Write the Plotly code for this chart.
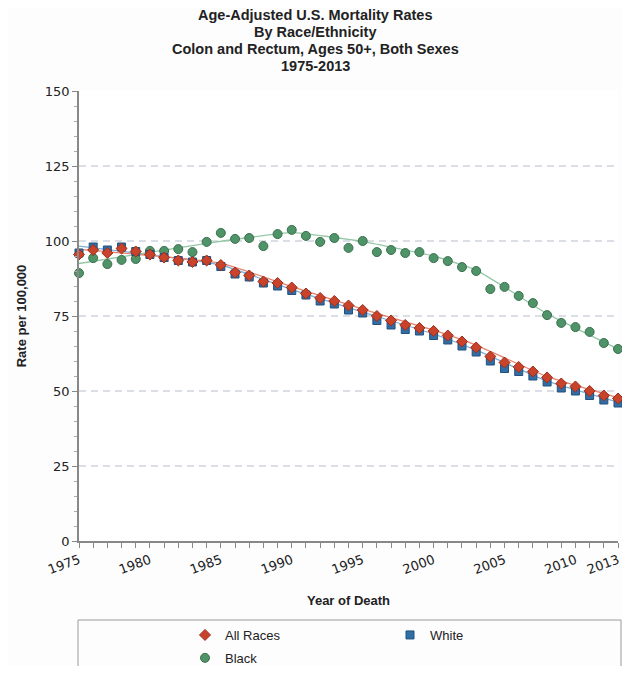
import plotly.graph_objects as go

years = list(range(1975, 2014))

all_races = [95.5, 97.0, 96.0, 97.5, 96.5, 95.5, 94.5, 93.5, 93.0, 93.5,
             92.0, 89.5, 88.5, 86.5, 86.0, 84.5, 82.5, 81.0, 80.0, 78.5,
             77.0, 75.0, 73.5, 72.0, 71.0, 70.0, 68.5, 66.5, 64.5, 61.5,
             59.5, 58.0, 56.5, 54.5, 52.5, 51.5, 50.0, 48.5, 47.5]

white = [96.0, 98.0, 97.0, 98.0, 96.5, 95.5, 94.5, 93.5, 93.0, 93.5,
         91.5, 89.0, 88.0, 86.0, 85.0, 83.5, 82.0, 80.0, 79.0, 77.0,
         76.0, 73.5, 72.0, 70.5, 70.0, 68.5, 67.0, 65.0, 63.0, 60.0,
         57.5, 56.5, 55.0, 53.0, 51.0, 50.0, 48.5, 47.0, 46.0]

black = [89.3, 94.3, 92.3, 93.7, 94.0, 96.7, 96.7, 97.3, 96.3, 99.7,
         102.7, 100.7, 101.0, 98.3, 102.3, 103.7, 101.7, 99.7, 101.0, 97.7,
         100.0, 96.3, 97.0, 96.0, 96.3, 94.3, 93.3, 91.3, 90.0, 84.0,
         84.7, 81.7, 79.3, 75.3, 72.7, 71.3, 69.7, 66.0, 64.0]

# fitted trend lines
all_fit_years = [1975, 1985, 1990, 1995, 2000, 2003, 2008, 2013]
all_fit_vals = [97.2, 92.6, 84.8, 77.3, 70.3, 65.3, 54.8, 47.8]
white_fit_years = [1975, 1985, 1990, 1995, 2000, 2003, 2008, 2013]
white_fit_vals = [98.3, 92.0, 83.8, 76.3, 69.0, 63.6, 53.3, 46.3]
black_fit_years = [1975, 1984, 1990, 1995, 2000, 2003, 2008, 2013]
black_fit_vals = [92.5, 99.2, 102.8, 99.8, 95.0, 90.3, 75.8, 64.0]

y_ticks = [0, 25, 50, 75, 100, 125, 150]
grid_vals = [25, 50, 75, 100, 125]
x_tickvals = [1975, 1980, 1985, 1990, 1995, 2000, 2005, 2010, 2013]
x_ticktext = [str(v) for v in x_tickvals]

title_lines = ["Age-Adjusted U.S. Mortality Rates", "By Race/Ethnicity",
               "Colon and Rectum, Ages 50+, Both Sexes", "1975-2013"]

RED = "#c9432b"
RED_LINE = "#e8826a"
BLUE = "#2f6ea6"
BLUE_LINE = "#7fb0d8"
GREEN = "#4f9468"
GREEN_LINE = "#93c7a6"

# page has an 8px body margin: figure is sized/offset to compensate
FIG_W, FIG_H = 614, 658
M_L, M_R, M_T, M_B = 71, 4, 83, 125
PLOT_W = FIG_W - M_L - M_R
PLOT_H = FIG_H - M_T - M_B

fig = go.Figure()

fig.add_trace(go.Scatter(x=white_fit_years, y=white_fit_vals, mode="lines",
                         line=dict(color=BLUE_LINE, width=1.3, smoothing=0.4),
                         showlegend=False, hoverinfo="skip", line_shape="spline"))
fig.add_trace(go.Scatter(x=all_fit_years, y=all_fit_vals, mode="lines",
                         line=dict(color=RED_LINE, width=1.3, smoothing=0.4),
                         showlegend=False, hoverinfo="skip", line_shape="spline"))
fig.add_trace(go.Scatter(x=black_fit_years, y=black_fit_vals, mode="lines",
                         line=dict(color=GREEN_LINE, width=1.3, smoothing=0.4),
                         showlegend=False, hoverinfo="skip", line_shape="spline"))

fig.add_trace(go.Scatter(x=years, y=black, mode="markers", name="Black",
                         marker=dict(symbol="circle", size=9, color=GREEN,
                                     line=dict(color="#3b6f4e", width=1)),
                         cliponaxis=False, legend="legend", legendgroup="b",
                         legendrank=2))
fig.add_trace(go.Scatter(x=years, y=white, mode="markers", name="White",
                         marker=dict(symbol="square", size=8, color=BLUE,
                                     line=dict(color="#24507a", width=1)),
                         cliponaxis=False, legend="legend2"))
fig.add_trace(go.Scatter(x=years, y=all_races, mode="markers", name="All Races",
                         marker=dict(symbol="diamond", size=8.5, color=RED,
                                     line=dict(color="#9a2f1e", width=1)),
                         cliponaxis=False, legend="legend", legendgroup="a",
                         legendrank=1))

for g in grid_vals:
    fig.add_shape(type="line", xref="paper", x0=0, x1=1, yref="y", y0=g, y1=g,
                  line=dict(color="#b7bfcb", width=1, dash="7px,5px"), layer="below")

# legend frame
fig.add_shape(type="rect", xref="paper", yref="paper",
              x0=(70 - M_L) / PLOT_W, x1=(613 - M_L) / PLOT_W,
              y0=-0.33, y1=-(612 - (M_T + PLOT_H)) / PLOT_H,
              line=dict(color="#9a9a9a", width=1), fillcolor="rgba(0,0,0,0)")

title_font = "Liberation Sans, Arial, sans-serif"
tick_font = "DejaVu Sans, Verdana, sans-serif"

# title lines (figure-pixel centres of each line)
title_centres = [6.5, 23.8, 41.0, 58.3]
for line_text, cy in zip(title_lines, title_centres):
    fig.add_annotation(
        text="<b>" + line_text + "</b>",
        xref="paper", yref="paper", x=(307 - M_L) / PLOT_W, y=1 + (M_T - cy) / PLOT_H,
        xanchor="center", yanchor="middle", showarrow=False,
        font=dict(size=14.5, family=title_font, color="#222222"),
    )

fig.update_layout(
    width=FIG_W, height=FIG_H,
    margin=dict(l=M_L, r=M_R, t=M_T, b=M_B, pad=0),
    paper_bgcolor="#fdfdfe",
    plot_bgcolor="#ffffff",
    font=dict(family=title_font, size=13, color="#222222"),
    xaxis=dict(
        range=[1975, 2013], automargin=False,
        tickvals=x_tickvals, ticktext=x_ticktext, tickangle=-20,
        ticks="outside", ticklen=5, tickcolor="#888888",
        minor=dict(dtick=1, tick0=1975, ticks="outside", ticklen=5, tickcolor="#888888"),
        showline=True, linecolor="#888888", linewidth=1.5,
        showgrid=False, zeroline=False,
        tickfont=dict(size=13, family=tick_font, color="#222222"),
        title=dict(text="<b>Year of Death</b>", font=dict(size=13), standoff=20),
    ),
    yaxis=dict(
        range=[0, 150], automargin=False,
        tickvals=y_ticks,
        ticks="outside", ticklen=5, tickcolor="#888888",
        minor=dict(dtick=5, ticks="outside", ticklen=3, tickcolor="#aaaaaa"),
        showline=True, linecolor="#888888", linewidth=1.5,
        showgrid=False, zeroline=False,
        tickfont=dict(size=13, family=tick_font, color="#222222"),
        title=dict(text="<b>Rate per 100,000</b>", font=dict(size=13), standoff=15),
    ),
    legend=dict(
        orientation="v", xref="paper", x=(177 - M_L) / PLOT_W, xanchor="left",
        yref="container", y=1 - 612 / FIG_H, yanchor="top", font=dict(size=13),
        bgcolor="rgba(0,0,0,0)", tracegroupgap=3, traceorder="grouped",
    ),
    legend2=dict(
        orientation="v", xref="paper", x=(382 - M_L) / PLOT_W, xanchor="left",
        yref="container", y=1 - 612 / FIG_H, yanchor="top", font=dict(size=13),
        bgcolor="rgba(0,0,0,0)",
    ),
)

fig.write_html("out.html")
